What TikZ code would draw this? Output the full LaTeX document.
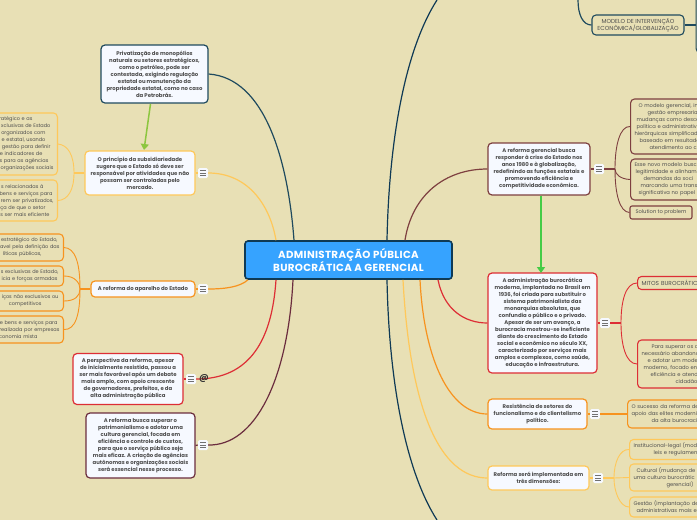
\documentclass[tikz,border=0pt]{standalone}
\usepackage{fontspec}
\setmainfont{Poppins}
\usetikzlibrary{arrows.meta}

\definecolor{paper}{HTML}{E8E0B5}
\definecolor{boxfill}{HTML}{F6F9FF}
\definecolor{inktext}{HTML}{4E4E4E}
\definecolor{tealdark}{HTML}{1F4A5E}
\definecolor{navydark}{HTML}{0F3A55}
\definecolor{orangemid}{HTML}{F7931E}
\definecolor{yellowsoft}{HTML}{FFC85A}
\definecolor{redmid}{HTML}{DD2E35}
\definecolor{maroondark}{HTML}{6B2D3E}
\definecolor{brownmid}{HTML}{7E4040}
\definecolor{rootblue}{HTML}{36A3FF}
\definecolor{arrowlime}{HTML}{8CC63F}
\definecolor{arrowgreen}{HTML}{45CC45}

\tikzset{
  parentbox/.style={draw=#1, line width=1.2pt, fill=boxfill, rounded corners=4pt, align=center,
    inner sep=0pt, text=inktext, font=\fontsize{5.35}{7}\selectfont\bfseries},
  cutleft/.style={draw=#1, line width=1.1pt, rounded corners=4pt, anchor=east, align=right,
    text width=100pt, inner xsep=4pt, inner ysep=0pt, text=inktext, font=\fontsize{5}{7}\selectfont},
  cutright/.style={draw=#1, line width=1.1pt, rounded corners=4pt, anchor=west, align=left,
    text width=100pt, inner xsep=4pt, inner ysep=0pt, text=inktext, font=\fontsize{5.2}{7}\selectfont},
  burger/.style={fill=boxfill, rounded corners=1.5pt, minimum size=10pt, inner sep=0pt,
    path picture={
      \foreach \dy in {-2.5,0,2.5}
        \draw[inktext!80, line width=.8pt] ([xshift=-3pt,yshift=\dy pt]path picture bounding box.center)
          -- ([xshift=3pt,yshift=\dy pt]path picture bounding box.center);
    }},
  link/.style={draw=#1, line width=1.2pt},
  sublink/.style={draw=#1, line width=.9pt}
}

\begin{document}
\begin{tikzpicture}[x=1pt, y=-1pt]
  \useasboundingbox[fill=paper] (0,0) rectangle (697,520);

  % the central box
  \node[draw=navydark, line width=1.6pt, fill=rootblue, rounded corners=3pt, align=center, text=white,
    inner sep=0pt, minimum width=207pt, minimum height=38pt,
    font=\fontsize{10.3}{13}\selectfont\bfseries\addfontfeature{LetterSpace=3}]
    (root) at (348.5, 260) {ADMINISTRAÇÃO PÚBLICA\\BUROCRÁTICA A GERENCIAL};

  % left branches
  \node[parentbox=tealdark, minimum width=107pt, minimum height=58pt] (privat) at (154.5, 74)
    {Privatização de monopólios\\naturais ou setores estratégicos,\\como o petróleo, pode ser\\contestada, exigindo regulação\\estatal ou manutenção da\\propriedade estatal, como no caso\\da Petrobrás.};
  \node[parentbox=yellowsoft, minimum width=110pt, minimum height=44pt] (subsid) at (140, 173)
    {O princípio da subsidiariedade\\sugere que o Estado só deve ser\\responsável por atividades que não\\possam ser controladas pelo\\mercado.};
  \node[parentbox=orangemid, minimum width=104pt, minimum height=16pt] (aparelho) at (143, 289)
    {A reforma do aparelho do Estado};
  \node[parentbox=redmid, minimum width=110pt, minimum height=51pt] (perspect) at (128, 379)
    {A perspectiva da reforma, apesar\\de inicialmente resistida, passou a\\ser mais favorável após um debate\\mais amplo, com apoio crescente\\de governadores, prefeitos, e da\\alta administração pública};
  \node[parentbox=maroondark, minimum width=109pt, minimum height=65pt] (superar) at (140.5, 445.5)
    {A reforma busca superar o\\patrimonialismo e adotar uma\\cultura gerencial, focada em\\eficiência e controle de custos,\\para que o serviço público seja\\mais eficaz. A criação de agências\\autônomas e organizações sociais\\será essencial nesse processo.};

  % children cut by the left edge
  \node[cutleft=yellowsoft, minimum height=62pt] (subsidA) at (58, 144)
    {tratégico e as\rule{21pt}{0pt}\\xclusivas de Estado\rule{3pt}{0pt}\\organizados com\rule{8pt}{0pt}\\e estatal, usando\rule{8pt}{0pt}\\gestão para definir\rule{3pt}{0pt}\\e indicadores de\rule{11pt}{0pt}\\s para as agências\rule{5pt}{0pt}\\organizações sociais};
  \node[cutleft=yellowsoft, minimum height=41pt] (subsidB) at (58, 200.5)
    {s relacionadas à\rule{10pt}{0pt}\\bens e serviços para\rule{1pt}{0pt}\\rem ser privatizados,\\ça de que o setor\rule{8pt}{0pt}\\s ser mais eficiente\rule{4pt}{0pt}};
  \node[cutleft=orangemid, minimum height=27pt] (aparelhoA) at (64, 247.5)
    {estratégico do Estado,\rule{2pt}{0pt}\\avel pela definição das\\líticas públicas,\rule{18pt}{0pt}};
  \node[cutleft=orangemid, minimum height=20pt] (aparelhoB) at (64, 276)
    {s exclusivas de Estado,\rule{1pt}{0pt}\\icia e forças armadas\rule{2pt}{0pt}};
  \node[cutleft=orangemid, minimum height=20pt] (aparelhoC) at (64, 301)
    {iços não exclusivos ou\rule{1pt}{0pt}\\competitivos\rule{18pt}{0pt}};
  \node[cutleft=orangemid, minimum height=27pt] (aparelhoD) at (64, 329.5)
    {e bens e serviços para\rule{2pt}{0pt}\\realizada por empresas\\conomia mista\rule{22pt}{0pt}};

  % right branches
  \node[draw=tealdark, line width=1.1pt, rounded corners=4pt, align=center, inner sep=0pt, text=inktext,
    minimum width=92pt, minimum height=20pt, font=\fontsize{5.8}{7}\selectfont] (modelo) at (638, 25)
    {MODELO DE INTERVENÇÃO\\ECONÔMICA/GLOBALIZAÇÃO};
  \node[draw=tealdark, line width=1.1pt, rounded corners=4pt, minimum width=40pt, minimum height=93pt,
    inner sep=0pt, anchor=south west] (modeloA) at (695.5, 53) {};
  \node[parentbox=brownmid, minimum width=102pt, minimum height=52pt] (gerencial) at (539, 169)
    {A reforma gerencial busca\\responder à crise do Estado nos\\anos 1980 e à globalização,\\redefinindo as funções estatais e\\promovendo eficiência e\\competitividade econômica.};
  \node[parentbox=redmid, minimum width=109pt, minimum height=100pt] (burocr) at (542.5, 323)
    {A administração burocrática\\moderna, implantada no Brasil em\\1936, foi criada para substituir o\\sistema patrimonialista das\\monarquias absolutas, que\\confundia o público e o privado.\\Apesar de ser um avanço, a\\burocracia mostrou-se ineficiente\\diante do crescimento do Estado\\social e econômico no século XX,\\caracterizado por serviços mais\\amplos e complexos, como saúde,\\educação e infraestrutura.};
  \node[parentbox=orangemid, minimum width=99pt, minimum height=30pt] (resist) at (537.5, 414)
    {Resistência de setores do\\funcionalismo e do clientelismo\\político.};
  \node[parentbox=yellowsoft, minimum width=101pt, minimum height=24pt] (dimens) at (538.5, 478)
    {Reforma será implementada em\\três dimensões:};

  % children cut by the right edge
  \node[cutright=brownmid, minimum height=55pt] (gerencialA) at (630, 126.5)
    {\hspace*{4pt}O modelo gerencial, in\\\hspace*{13pt}gestão empresarial\\\hspace*{2pt}mudanças como desce\\\hspace*{2pt}política e administrativ\\hierárquicas simplificad\\\hspace*{5pt}baseado em resultado\\\hspace*{15pt}atendimento ao ci};
  \node[cutright=brownmid, minimum height=41pt] (gerencialB) at (630, 179.5)
    {Esse novo modelo busc\\\hspace*{1pt}legitimidade e alinham\\\hspace*{9pt}demandas da soci\\\hspace*{6pt}marcando uma transi\\\hspace*{4pt}significativa no papel};
  \node[draw=brownmid, line width=1.1pt, rounded corners=2pt, inner sep=0pt, text=inktext,
    minimum width=62pt, minimum height=13pt, font=\fontsize{5.2}{7}\selectfont] (gerencialC) at (661, 212.5)
    {Solution to problem};
  \node[cutright=redmid, minimum height=13pt, font=\fontsize{5.8}{7}\selectfont] (burocrA) at (637, 283)
    {MITOS BUROCRÁTICO};
  \node[cutright=redmid, minimum height=48pt] (burocrB) at (637, 364)
    {\hspace*{10pt}Para superar os d\\necessário abandona\\\hspace*{6pt}e adotar um model\\\hspace*{2pt}moderno, focado en\\\hspace*{9pt}eficiência e atend\\\hspace*{34pt}cidadão};
  \node[cutright=orangemid, minimum height=28pt] (resistA) at (627, 414)
    {O sucesso da reforma de\\apoio das elites moderni\\\hspace*{20pt}da alta burocraci};
  \node[cutright=yellowsoft, minimum height=20pt] (dimensA) at (629, 449.5)
    {Institucional-legal (mod\\\hspace*{20pt}leis e regulamen};
  \node[cutright=yellowsoft, minimum height=27pt] (dimensB) at (629, 477.5)
    {\hspace*{3pt}Cultural (mudança de v\\uma cultura burocrátic\\\hspace*{33pt}gerencial)};
  \node[cutright=yellowsoft, minimum height=20pt] (dimensC) at (629, 507)
    {Gestão (implantação de\\\hspace*{3pt}administrativas mais efi};

  % menu icons beside the parents
  \foreach \n/\x/\y in {subsid/203/173, aparelho/203/289, perspect/191/379, superar/203/445,
                        gerencial/599/169, burocr/605/323, resist/595/414, dimens/598/478} {
    \node[burger] (\n Menu) at (\x, \y) {};
  }

  % free ends of the lines that leave the picture
  \coordinate (offTop) at (437, 0);
  \coordinate (offBottom) at (437, 520);
  \coordinate (offModelo) at (578, 0);
  \coordinate (tailSubsid) at (150.5, 104);
  \coordinate (tipSubsid) at (144, 150);
  \coordinate (tipBurocr) at (541, 273);

  % spines of the child brackets
  \coordinate (subsidSpine) at (74, 173);
  \coordinate (aparelhoSpine) at (80, 289);
  \coordinate (gerencialSpine) at (615, 169);
  \coordinate (burocrSpine) at (621, 323);
  \coordinate (dimensSpine) at (614, 478);

  % connectors to the central box
  \draw[link=tealdark] (privat.east) .. controls (265, 78) and (288, 160) .. ([xshift=-54.5pt]root.north);
  \draw[link=yellowsoft] (subsidMenu.east) .. controls (248, 173) and (270, 205) .. ([xshift=-72.5pt]root.north);
  \draw[link=orangemid] (aparelhoMenu.east) .. controls (225, 289) and (240, 287) .. ([xshift=-100.5pt]root.south);
  \draw[link=redmid] (perspectMenu.east) .. controls (250, 379) and (272, 340) .. ([xshift=-72.5pt]root.south);
  \draw[link=maroondark] (superarMenu.east) .. controls (255, 446) and (288, 380) .. ([xshift=-55.5pt]root.south);
  \draw[link=navydark] (offTop) .. controls (405, 50) and (389, 140) .. ([xshift=38.5pt]root.north);
  \draw[link=navydark] (offBottom) .. controls (405, 470) and (389, 380) .. ([xshift=38.5pt]root.south);
  \draw[link=brownmid] (gerencial.west) .. controls (445, 169) and (412, 195) .. ([xshift=56.5pt]root.north);
  \draw[link=redmid] (burocr.west) .. controls (465, 323) and (444, 310) .. ([xshift=89.5pt]root.south);
  \draw[link=orangemid] (resist.west) .. controls (450, 414) and (424, 360) .. ([xshift=71.5pt]root.south);
  \draw[link=yellowsoft] (dimens.west) .. controls (440, 478) and (410, 410) .. ([xshift=54.5pt]root.south);

  % the at sign sits on top of the red connector
  \node[text=black!80, inner sep=0pt, font=\fontsize{9}{9}\selectfont\bfseries] (perspectAt) at (204, 379) {@};

  % stubs from the parents to their menu icons
  \draw[link=yellowsoft] (subsid.east) -- (subsidMenu.west);
  \draw[link=orangemid] (aparelho.east) -- (aparelhoMenu.west);
  \draw[link=redmid] (perspect.east) -- (perspectMenu.west);
  \draw[link=maroondark] (superar.east) -- (superarMenu.west);
  \draw[link=brownmid] (gerencial.east) -- (gerencialMenu.west);
  \draw[link=redmid] (burocr.east) -- (burocrMenu.west);
  \draw[link=orangemid] (resist.east) -- (resistMenu.west);
  \draw[link=yellowsoft] (dimens.east) -- (dimensMenu.west);

  % brackets to the children
  \draw[link=yellowsoft] (subsid.west) -- (subsidSpine);
  \draw[sublink=yellowsoft] (subsidSpine) .. controls (74, 155) and (68, 145) .. (subsidA.east);
  \draw[sublink=yellowsoft] (subsidSpine) .. controls (74, 190) and (68, 200) .. (subsidB.east);
  \draw[link=orangemid] (aparelho.west) -- (aparelhoSpine);
  \draw[sublink=orangemid] (aparelhoSpine) .. controls (80, 262) and (75, 248) .. (aparelhoA.east);
  \draw[sublink=orangemid] (aparelhoSpine) .. controls (80, 283) and (75, 276) .. (aparelhoB.east);
  \draw[sublink=orangemid] (aparelhoSpine) .. controls (80, 296) and (75, 301) .. (aparelhoC.east);
  \draw[sublink=orangemid] (aparelhoSpine) .. controls (80, 316) and (75, 330) .. (aparelhoD.east);
  \draw[link=brownmid] (gerencialMenu.east) -- (gerencialSpine);
  \draw[sublink=brownmid] (gerencialSpine) .. controls (615, 145) and (620, 126) .. (gerencialA.west);
  \draw[sublink=brownmid] (gerencialSpine) .. controls (615, 174) and (620, 179) .. (gerencialB.west);
  \draw[sublink=brownmid] (gerencialSpine) .. controls (615, 195) and (620, 212) .. (gerencialC.west);
  \draw[link=redmid] (burocrMenu.east) -- (burocrSpine);
  \draw[sublink=redmid] (burocrSpine) .. controls (621, 300) and (626, 283) .. (burocrA.west);
  \draw[sublink=redmid] (burocrSpine) .. controls (621, 345) and (626, 364) .. (burocrB.west);
  \draw[link=orangemid] (resistMenu.east) -- (resistA.west);
  \draw[link=yellowsoft] (dimensMenu.east) -- (dimensSpine);
  \draw[sublink=yellowsoft] (dimensSpine) .. controls (614, 462) and (620, 449) .. (dimensA.west);
  \draw[sublink=yellowsoft] (dimensSpine) -- (dimensB.west);
  \draw[sublink=yellowsoft] (dimensSpine) .. controls (614, 492) and (620, 507) .. (dimensC.west);
  \draw[link=tealdark] (offModelo) .. controls (578, 15) and (583, 25) .. (modelo.west);
  \draw[link=tealdark] (modelo.east) -- (modeloA.west |- modelo.east);

  % the two arrows between parents
  \draw[-{Triangle[width=8pt, length=6pt]}, line width=1.5pt, color=arrowlime] (tailSubsid) -- (tipSubsid);
  \draw[-{Triangle[width=8pt, length=6pt]}, line width=1.5pt, color=arrowgreen] (tipBurocr |- gerencial.south) -- (tipBurocr);
\end{tikzpicture}
\end{document}
